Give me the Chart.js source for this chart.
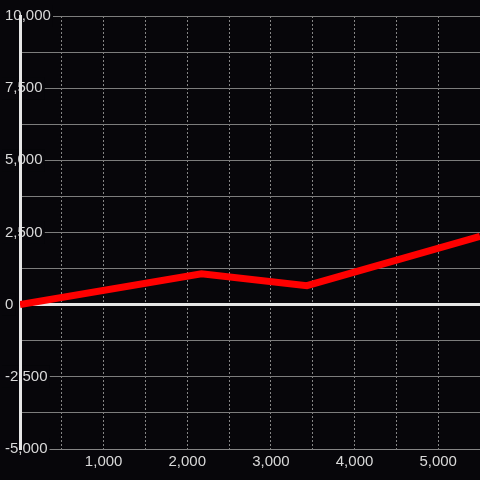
<!DOCTYPE html>
<html>
<head>
<meta charset="utf-8">
<script src="https://cdn.jsdelivr.net/npm/chart.js@4/dist/chart.umd.min.js"></script>
<style>
  html, body { margin: 0; padding: 0; background: #07060a; }
  #wrap { width: 480px; height: 480px; position: relative; }
</style>
</head>
<body>
<div id="wrap"><canvas id="c"></canvas></div>
<script>
// Data
const xValues = [0, 2170, 3430, 5500];
const yValues = [0, 1070, 660, 2370];
const xTicks = { min: 0, max: 5500, step: 500, labelEvery: 1000 };
const yTicks = { min: -5000, max: 10000, step: 1250, labelEvery: 2500 };

const BG = '#07060a';
const points = xValues.map((x, i) => ({ x: x, y: yValues[i] }));
const fmt = (v) => Number(v).toLocaleString('en-US');
const isYLabel = (c) => !!(c && c.tick && c.tick.value % yTicks.labelEvery === 0);

new Chart(document.getElementById('c'), {
  type: 'line',
  data: {
    datasets: [{
      data: points,
      borderColor: '#ff0000',
      borderWidth: 7,
      pointRadius: 0,
      tension: 0,
      fill: false
    }]
  },
  options: {
    responsive: true,
    maintainAspectRatio: false,
    animation: false,
    devicePixelRatio: 1,
    layout: { padding: { top: 16, right: 0, bottom: 5, left: 0 } },
    plugins: { legend: { display: false }, tooltip: { enabled: false } },
    scales: {
      x: {
        type: 'linear',
        min: xTicks.min,
        max: xTicks.max,
        afterFit: (scale) => { scale.paddingRight = 0; scale.paddingLeft = 0; },
        grid: {
          color: '#858585',
          lineWidth: 1,
          drawTicks: false,
          z: -3
        },
        border: { display: true, color: '#858585', width: 1, dash: [2, 2] },
        ticks: {
          stepSize: xTicks.step,
          autoSkip: false,
          maxRotation: 0,
          padding: 4,
          color: '#d9d9d9',
          font: { family: 'Liberation Sans, Arial, sans-serif', size: 15 },
          callback: (v) => (v !== 0 && v % xTicks.labelEvery === 0) ? fmt(v) : ''
        }
      },
      y: {
        type: 'linear',
        min: yTicks.min,
        max: yTicks.max,
        afterFit: (scale) => { scale.width = 20; },
        grid: {
          color: (c) => (c.tick && c.tick.value === 0) ? '#e6e6e6' : '#7c7c7c',
          lineWidth: (c) => (c.tick && c.tick.value === 0) ? 3 : 1,
          drawTicks: false,
          z: -2
        },
        border: { display: true, color: '#e6e6e6', width: 3 },
        ticks: {
          stepSize: yTicks.step,
          autoSkip: false,
          mirror: true,
          padding: -15,
          z: -1,
          color: '#d9d9d9',
          font: { family: 'Liberation Sans, Arial, sans-serif', size: 15 },
          showLabelBackdrop: (c) => isYLabel(c),
          backdropColor: BG,
          backdropPadding: { left: 3, right: 2, top: 2, bottom: 2 },
          callback: (v) => (v % yTicks.labelEvery === 0) ? fmt(v) : ''
        }
      }
    }
  },
  plugins: [{
    id: 'bg',
    beforeDraw: (chart) => {
      const ctx = chart.ctx;
      ctx.save();
      ctx.fillStyle = BG;
      ctx.fillRect(0, 0, chart.width, chart.height);
      ctx.restore();
    },
    beforeDatasetsDraw: (chart) => {
      // repaint y tick labels (with backdrops) above grid lines, then the axis line
      const y = chart.scales.y;
      y.drawLabels(chart.chartArea);
      y.drawBorder();
    }
  }]
});
</script>
</body>
</html>
